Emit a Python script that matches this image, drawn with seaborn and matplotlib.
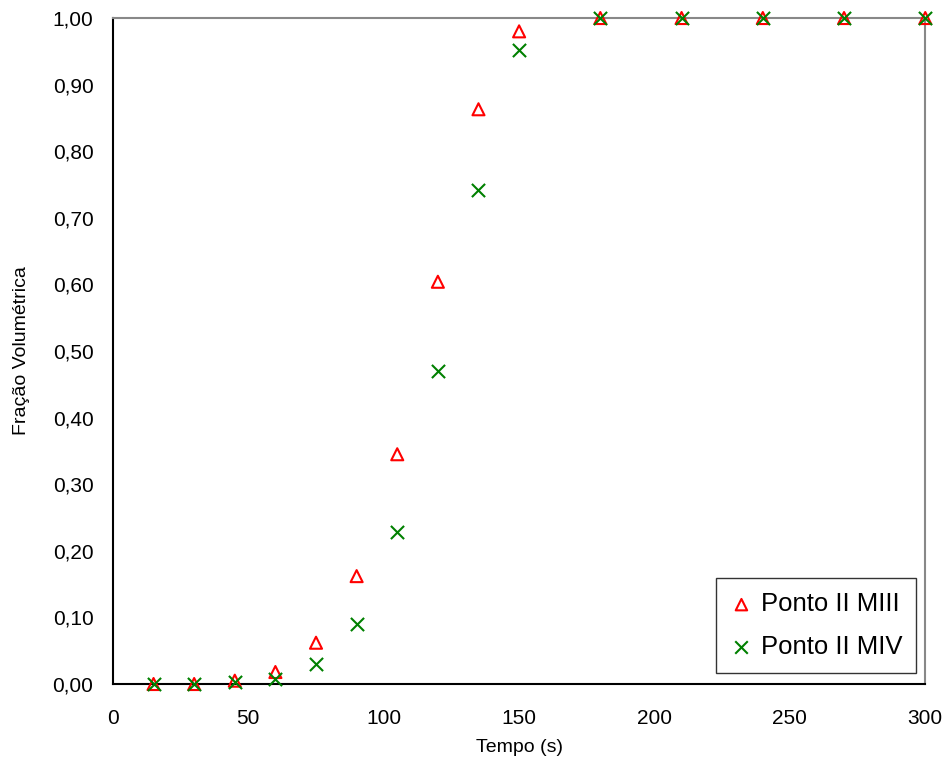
import matplotlib
matplotlib.use("Agg")
import matplotlib.pyplot as plt
import seaborn as sns
import pandas as pd

# data
tempo = [15, 30, 45, 60, 75, 90, 105, 120, 135, 150, 180, 210, 240, 270, 300]
ponto_miii = [0.0, 0.0, 0.005, 0.018, 0.062, 0.162, 0.345, 0.604, 0.863, 0.980,
              1.0, 1.0, 1.0, 1.0, 1.0]
ponto_miv = [0.0, 0.0, 0.003, 0.008, 0.030, 0.090, 0.228, 0.470, 0.742, 0.952,
             1.0, 1.0, 1.0, 1.0, 1.0]
y_ticks = [0.0, 0.1, 0.2, 0.3, 0.4, 0.5, 0.6, 0.7, 0.8, 0.9, 1.0]
y_labels = ["0,00", "0,10", "0,20", "0,30", "0,40", "0,50", "0,60", "0,70", "0,80", "0,90", "1,00"]
x_ticks = [0, 50, 100, 150, 200, 250, 300]

df = pd.DataFrame({"tempo": tempo, "miii": ponto_miii, "miv": ponto_miv})

sns.set_style("white")
plt.rcParams["font.family"] = ["Liberation Sans", "DejaVu Sans"]
plt.rcParams["text.color"] = "black"
plt.rcParams["axes.labelcolor"] = "black"
plt.rcParams["xtick.color"] = "black"
plt.rcParams["ytick.color"] = "black"

fig = plt.figure(figsize=(9.49, 7.67), dpi=100)
ax = fig.add_axes([0.119, 0.1082, 0.856, 0.8683])

sns.scatterplot(data=df, x="tempo", y="miii", ax=ax, marker="^", s=75,
                facecolors="none", edgecolor="#ff0000", linewidth=1.5,
                label="Ponto II MIII", clip_on=False, zorder=3)
sns.scatterplot(data=df, x="tempo", y="miv", ax=ax, marker="x", s=90,
                color="#008000", linewidth=1.5,
                label="Ponto II MIV", clip_on=False, zorder=3)

ax.set_xlim(0, 300)
ax.set_ylim(0, 1.0)
ax.set_xticks(x_ticks)
ax.set_yticks(y_ticks)
ax.set_yticklabels(y_labels)
ax.tick_params(axis="both", direction="out", length=6, width=1.2,
               labelsize=15, color="black", pad=8)
ax.tick_params(axis="x", pad=12)

for side in ["left", "bottom"]:
    ax.spines[side].set_color("black")
    ax.spines[side].set_linewidth(1.5)
for side in ["top", "right"]:
    ax.spines[side].set_color("#888888")
    ax.spines[side].set_linewidth(1.5)

ax.set_xlabel("Tempo (s)", fontsize=14, labelpad=8)
ax.set_ylabel("Fração Volumétrica", fontsize=14, labelpad=16)

leg = ax.legend(loc="lower right", fontsize=18.5, frameon=True, fancybox=False,
                edgecolor="black", borderpad=0.55, handletextpad=0.3,
                handlelength=0.9, labelspacing=0.72, borderaxespad=0,
                bbox_to_anchor=(0.989, 0.0165), markerscale=0.95)
leg.get_frame().set_linewidth(1.0)

fig.savefig("out.png", dpi=100)
